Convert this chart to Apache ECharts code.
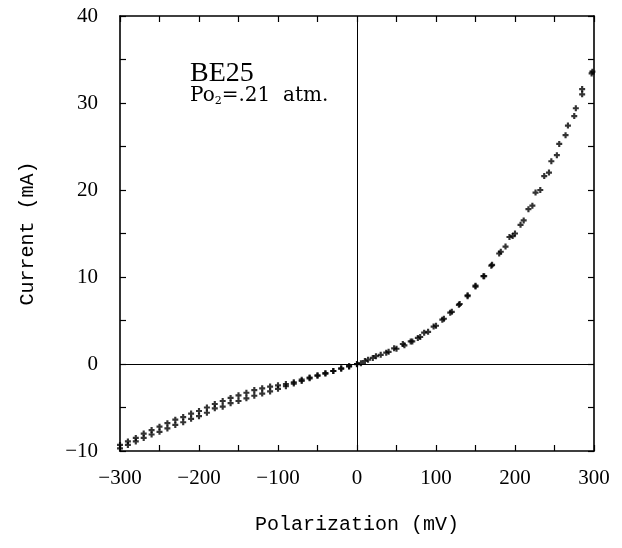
<!DOCTYPE html>
<html>
<head>
<meta charset="utf-8">
<script src="https://cdn.jsdelivr.net/npm/echarts@6/dist/echarts.min.js"></script>
<style>html,body{margin:0;padding:0;background:#fff}#c{width:622px;height:548px}</style>
</head>
<body>
<div id="c"></div>
<script>
// Sweep A (upper branch at negative polarization)
const sweepA_mV = [-300,-290,-280,-270,-260,-250,-240,-230,-220,-210,-200,-190,-180,-170,-160,-150,-140,-130,-120,-110,-100,-90,-80,-70,-60,-50,-40,-30,-20,-10,0,
  10,20,30,40,50,60,70,80,90,100,110,120,130,140,150,160,170,180,188,197,207,217,226,237,246,256,267,277,285,298];
const sweepA_mA = [-9.3,-8.9,-8.5,-8.0,-7.6,-7.2,-6.8,-6.4,-6.1,-5.7,-5.4,-5.0,-4.6,-4.25,-3.9,-3.6,-3.3,-3.0,-2.8,-2.6,-2.45,-2.3,-2.1,-1.8,-1.55,-1.3,-1.05,-0.8,-0.5,-0.25,0,
  0.35,0.7,1.05,1.4,1.75,2.15,2.6,3.1,3.7,4.4,5.2,6.0,6.9,7.9,9.0,10.1,11.3,12.7,13.5,14.7,16.0,17.8,19.7,21.6,23.3,25.3,27.4,29.4,31.6,33.6];
// Sweep B (lower branch at negative polarization)
const sweepB_mV = [-300,-290,-280,-270,-260,-250,-240,-230,-220,-210,-200,-190,-180,-170,-160,-150,-140,-130,-120,-110,-100,-90,-80,-70,-60,-50,-40,-30,-20,-10,0,
  5,14,24,37,47,58,68,77,85,97,108,118,129,140,150,161,171,182,193,200,211,222,232,243,253,264,275,285,297];
const sweepB_mA = [-9.7,-9.3,-8.9,-8.5,-8.1,-7.8,-7.4,-7.0,-6.7,-6.3,-6.0,-5.6,-5.1,-4.9,-4.5,-4.25,-3.95,-3.65,-3.4,-3.15,-2.85,-2.55,-2.25,-1.95,-1.65,-1.35,-1.1,-0.8,-0.55,-0.28,-0.02,
  0.1,0.5,0.9,1.3,1.8,2.3,2.6,3.0,3.6,4.3,5.1,5.9,6.8,7.8,8.9,10.1,11.4,12.9,14.6,15.0,16.5,18.2,20.0,22.0,24.0,26.3,28.5,31.0,33.4];
const xTicks = [-300,-200,-100,0,100,200,300];
const yTicks = [-10,0,10,20,30,40];

const pair = (xs, ys) => xs.map((x, i) => [x, ys[i]]);
const fmt = v => (v < 0 ? '\u2212' + Math.abs(v) : String(v));
const plus = 'path://M1.6,0H3.4V1.6H5V3.4H3.4V5H1.6V3.4H0V1.6H1.6Z';
const numFont = {fontFamily: 'Liberation Serif', fontSize: 21, color: '#000'};
const axisCommon = {
  axisLine: {show: true, onZero: false, lineStyle: {color: '#000', width: 1.6}},
  axisTick: {show: true, inside: true, length: 6, lineStyle: {color: '#000', width: 1.2}},
  splitLine: {show: false}
};

const chart = echarts.init(document.getElementById('c'), null, {renderer: 'canvas'});
chart.setOption({
  backgroundColor: '#fff',
  animation: false,
  grid: {left: 120, right: 28, top: 16, bottom: 97, containLabel: false},
  xAxis: [
    Object.assign({type: 'value', position: 'bottom', min: xTicks[0], max: xTicks[xTicks.length - 1], interval: 50,
      name: 'Polarization (mV)', nameLocation: 'middle', nameGap: 64,
      nameTextStyle: {fontFamily: 'Liberation Mono', fontSize: 20, color: '#000'},
      axisLabel: Object.assign({margin: 17, formatter: v => xTicks.includes(v) ? fmt(v) : ''}, numFont)}, axisCommon),
    Object.assign({type: 'value', position: 'top', min: xTicks[0], max: xTicks[xTicks.length - 1], interval: 50,
      axisLabel: {show: false}}, axisCommon)
  ],
  yAxis: [
    Object.assign({type: 'value', position: 'left', min: yTicks[0], max: yTicks[yTicks.length - 1], interval: 5,
      name: 'Current (mA)', nameLocation: 'middle', nameGap: 82,
      nameTextStyle: {fontFamily: 'Liberation Mono', fontSize: 20, color: '#000'},
      axisLabel: Object.assign({margin: 22, formatter: v => yTicks.includes(v) ? fmt(v) : ''}, numFont)}, axisCommon),
    Object.assign({type: 'value', position: 'right', min: yTicks[0], max: yTicks[yTicks.length - 1], interval: 5,
      axisLabel: {show: false}}, axisCommon)
  ],
  graphic: [
    {type: 'text', left: 190, top: 60, style: {text: 'BE25', font: '28px "Liberation Serif"', fill: '#000'}},
    {type: 'text', left: 190, top: 86, style: {
      text: '{a|Po}{s|2}{a|=.21  atm.}',
      rich: {
        a: {fontFamily: 'DejaVu Serif', fontSize: 20, color: '#000'},
        s: {fontFamily: 'DejaVu Serif', fontSize: 11, color: '#000', verticalAlign: 'bottom', padding: [10, 0, 0, 0]}
      }}}
  ],
  series: [
    {type: 'scatter', name: 'A', data: pair(sweepA_mV, sweepA_mA), symbol: plus, symbolSize: 6,
      itemStyle: {color: '#000'},
      markLine: {silent: true, symbol: ['none', 'none'], label: {show: false},
        lineStyle: {color: '#000', width: 1, type: 'solid'},
        data: [{xAxis: 0}, {yAxis: 0}]}},
    {type: 'scatter', name: 'B', data: pair(sweepB_mV, sweepB_mA), symbol: plus, symbolSize: 6,
      itemStyle: {color: '#000'}}
  ]
});
</script>
</body>
</html>
